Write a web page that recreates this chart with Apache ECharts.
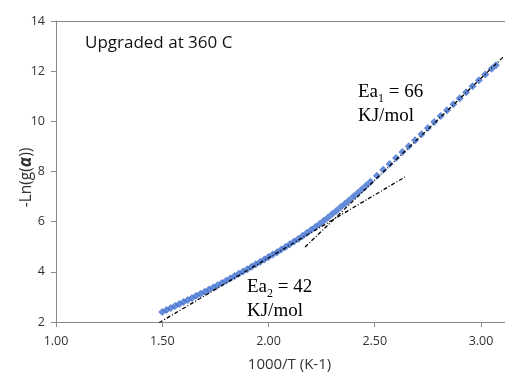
<!DOCTYPE html>
<html>
<head>
<meta charset="utf-8">
<script src="https://cdn.jsdelivr.net/npm/echarts@6/dist/echarts.min.js"></script>
<style>html,body{margin:0;padding:0;background:#fff}#c{width:505px;height:373px}</style>
</head>
<body>
<div id="c"></div>
<script>
// measured points: x = 1000/T (K-1), y = -Ln(g(alpha))
const xValues = [1.50,1.52,1.54,1.56,1.58,1.60,1.62,1.64,1.66,1.68,1.70,1.72,1.74,1.76,1.78,1.80,1.82,1.84,1.86,1.88,1.90,1.92,1.94,1.96,1.98,2.00,2.02,2.04,2.06,2.08,2.10,2.12,2.14,2.16,2.18,2.20,2.22,2.24,2.26,2.28,2.30,2.32,2.34,2.36,2.38,2.40,2.42,2.44,2.46,2.48,2.51,2.54,2.57,2.60,2.63,2.66,2.69,2.72,2.75,2.78,2.81,2.84,2.87,2.90,2.93,2.96,2.99,3.02,3.05,3.07];
const yValues = [2.40,2.48,2.56,2.64,2.72,2.80,2.88,2.96,3.05,3.13,3.21,3.30,3.38,3.47,3.55,3.64,3.73,3.83,3.92,4.01,4.10,4.20,4.30,4.39,4.49,4.59,4.69,4.78,4.89,4.99,5.10,5.21,5.31,5.43,5.55,5.67,5.79,5.91,6.04,6.17,6.31,6.44,6.58,6.71,6.85,7.00,7.14,7.29,7.44,7.59,7.83,8.07,8.30,8.54,8.78,9.01,9.25,9.49,9.73,9.97,10.21,10.44,10.68,10.92,11.16,11.40,11.64,11.87,12.10,12.24];
// fitted lines (end points)
const ea1Line = [[2.172, 4.99], [3.104, 12.56]];
const ea2Line = [[1.485, 1.97], [2.642, 7.78]];
const xTickLabels = ['1.00','1.50','2.00','2.50','3.00'];
const yTickLabels = ['2','4','6','8','10','12','14'];
const chartTitle = 'Upgraded at 360 C';
const ea1Text = ['Ea', '1', ' = 66', 'KJ/mol'];
const ea2Text = ['Ea', '2', ' = 42', 'KJ/mol'];

const scatterData = xValues.map((x, i) => [x, yValues[i]]);
const chart = echarts.init(document.getElementById('c'), null, {renderer: 'canvas'});
const sans = 'Open Sans';
const serif = 'Liberation Serif';
const labelColor = '#333333';
const axisColor = '#8a8a8a';
const eaRich = {
  a: {fontFamily: serif, fontSize: 19, color: '#111', lineHeight: 24},
  s: {fontFamily: serif, fontSize: 12, color: '#111', lineHeight: 10, verticalAlign: 'bottom'}
};
function eaStr(t) { return '{a|' + t[0] + '}{s|' + t[1] + '}{a|' + t[2] + '}\n{a|' + t[3] + '}'; }

chart.setOption({
  animation: false,
  grid: {left: 56, right: 0, top: 21, bottom: 51, containLabel: false, outerBoundsMode: 'none'},
  xAxis: [{
    type: 'value', min: 1, max: 3.113, interval: 0.5,
    axisLine: {lineStyle: {color: axisColor, width: 1}},
    axisTick: {show: true, length: 5, lineStyle: {color: axisColor}},
    splitLine: {show: false},
    axisLabel: {
      color: labelColor, fontFamily: sans, fontSize: 12.5, margin: 13, showMaxLabel: false,
      formatter: v => { const i = Math.round((v - 1) / 0.5); return Math.abs(v - 1 - i * 0.5) < 1e-6 ? xTickLabels[i] : ''; }
    },
    name: '1000/T (K-1)', nameLocation: 'middle', nameGap: 35, nameMoveOverlap: false,
    nameTextStyle: {color: labelColor, fontFamily: sans, fontSize: 15, padding: [0, 0, 0, 18]}
  }, {
    type: 'value', position: 'top', min: 1, max: 3.113,
    axisLine: {show: true, lineStyle: {color: axisColor, width: 1}},
    axisTick: {show: false}, axisLabel: {show: false}, splitLine: {show: false}
  }],
  yAxis: {
    type: 'value', min: 2, max: 14, interval: 2,
    axisLine: {show: true, lineStyle: {color: axisColor, width: 1}},
    axisTick: {show: true, inside: false, length: 5, lineStyle: {color: axisColor}},
    splitLine: {show: false},
    axisLabel: {
      color: labelColor, fontFamily: sans, fontSize: 12.5, margin: 11,
      formatter: v => yTickLabels[Math.round((v - 2) / 2)]
    },
    name: '-Ln(g({b|α}))', nameLocation: 'middle', nameGap: 21, nameMoveOverlap: false,
    nameTextStyle: {
      color: labelColor, fontFamily: sans, fontSize: 15.5, padding: [0, 12, 0, 0],
      rich: {b: {color: labelColor, fontFamily: sans, fontSize: 17, fontWeight: 'bold', fontStyle: 'italic'}}
    }
  },
  series: [{
    type: 'scatter', data: scatterData, symbol: 'diamond', symbolSize: 8,
    itemStyle: {color: '#3F6FCF'}, z: 2
  }, {
    type: 'line', data: ea1Line, symbol: 'none', z: 3,
    lineStyle: {color: '#000', width: 1.3, type: [4, 2, 1, 2]}
  }, {
    type: 'line', data: ea2Line, symbol: 'none', z: 3,
    lineStyle: {color: '#000', width: 1.3, type: [4, 2, 1, 2]}
  }],
  graphic: [{
    type: 'text', left: 85, top: 35,
    style: {text: chartTitle, fontFamily: sans, fontSize: 17, fill: '#111'}
  }, {
    type: 'text', left: 358, top: 83,
    style: {text: eaStr(ea1Text), rich: eaRich}
  }, {
    type: 'text', left: 247, top: 278,
    style: {text: eaStr(ea2Text), rich: eaRich}
  }]
});
</script>
</body>
</html>
